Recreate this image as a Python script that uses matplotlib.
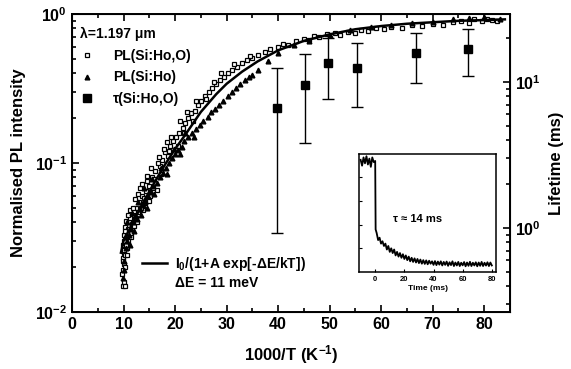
import numpy as np
import matplotlib
matplotlib.use('Agg')
import matplotlib.pyplot as plt
from matplotlib.lines import Line2D
from matplotlib.ticker import FixedLocator, FixedFormatter, LogLocator, NullFormatter, MultipleLocator

plt.rcParams['font.family'] = ['Liberation Sans', 'DejaVu Sans']
plt.rcParams['font.weight'] = 'bold'
plt.rcParams['mathtext.fontset'] = 'custom'
plt.rcParams['mathtext.rm'] = 'Liberation Sans:bold'
plt.rcParams['mathtext.bf'] = 'Liberation Sans:bold'
plt.rcParams['mathtext.it'] = 'Liberation Sans:bold'

# PL(Si:Ho,O) - open squares, 1000/T vs normalised intensity
sq_x = [9.8, 10.0, 10.2, 9.9, 10.1, 9.8, 10.0, 10.3, 9.9, 10.2, 10.4, 10.0, 10.6, 10.3, 10.8,
        11.0, 10.5, 11.3, 11.6, 12.0, 11.2, 12.4, 12.8, 13.0, 12.2, 13.5, 14.0, 14.3, 13.2, 15.0,
        14.6, 15.5, 16.0, 16.2, 15.4, 17.0, 17.5, 16.8, 18.0, 18.6, 19.0, 18.4, 19.6, 20.2, 20.8,
        21.5, 22.0, 22.6, 23.0, 23.8, 24.5, 25.0, 25.8, 26.5, 27.2, 28.0, 28.8, 29.5, 30.3, 31.0,
        32.0, 33.0, 34.0, 35.0, 36.0, 37.5, 38.5, 40.0, 41.0, 42.0, 43.5, 45.0, 46.0, 47.0, 48.0,
        49.5, 51.0, 52.0, 53.5, 55.0, 56.0, 57.5, 59.0, 60.5, 62.0, 64.0, 66.0, 68.0, 70.0, 72.0,
        74.0, 75.5, 77.0, 78.0, 79.5, 80.5, 81.5, 82.5, 10.7, 11.4, 12.6, 13.8, 14.9, 16.5,
        9.7, 9.9, 10.1, 10.0, 10.3, 10.5, 10.2, 10.6, 10.9, 11.1, 10.8, 11.5, 11.8, 12.1, 12.5,
        12.9, 13.3, 13.6, 14.1, 14.5, 15.2, 15.8, 16.6, 17.3, 17.8, 18.9, 19.3, 20.5, 21.0, 21.8,
        22.4, 23.4, 24.0, 26.0, 27.6, 29.0, 31.5, 34.5]
sq_y = [0.015, 0.016, 0.015, 0.019, 0.021, 0.023, 0.025, 0.024, 0.028, 0.029, 0.031, 0.033, 0.034, 0.037, 0.036,
        0.040, 0.041, 0.043, 0.039, 0.045, 0.048, 0.050, 0.047, 0.055, 0.057, 0.060, 0.058, 0.065, 0.068, 0.070,
        0.076, 0.080, 0.078, 0.088, 0.092, 0.095, 0.105, 0.110, 0.118, 0.112, 0.130, 0.138, 0.140, 0.150, 0.160,
        0.172, 0.185, 0.200, 0.215, 0.225, 0.245, 0.26, 0.28, 0.30, 0.32, 0.34, 0.36, 0.38, 0.40, 0.42,
        0.44, 0.47, 0.49, 0.51, 0.53, 0.56, 0.58, 0.60, 0.63, 0.62, 0.66, 0.68, 0.67, 0.71, 0.70,
        0.73, 0.74, 0.72, 0.76, 0.75, 0.78, 0.77, 0.80, 0.79, 0.82, 0.81, 0.84, 0.83, 0.86, 0.85,
        0.88, 0.90, 0.87, 0.92, 0.90, 0.93, 0.91, 0.90, 0.027, 0.032, 0.040, 0.048, 0.056, 0.066,
        0.018, 0.022, 0.026, 0.030, 0.020, 0.028, 0.035, 0.024, 0.030, 0.036, 0.045, 0.034, 0.050, 0.038, 0.043,
        0.062, 0.050, 0.072, 0.054, 0.082, 0.060, 0.068, 0.100, 0.085, 0.125, 0.120, 0.150, 0.13, 0.19, 0.16,
        0.22, 0.19, 0.26, 0.27, 0.35, 0.40, 0.46, 0.52]

# PL(Si:Ho) - filled triangles
tri_x = [9.9, 10.1, 10.4, 10.7, 11.0, 11.4, 11.8, 12.3, 12.7, 13.1, 13.7, 14.2, 14.8, 15.3, 15.8,
         16.4, 17.0, 17.6, 18.2, 18.8, 19.4, 20.0, 20.6, 21.3, 21.8, 22.5, 23.2, 24.0, 24.8, 25.5,
         26.3, 27.0, 27.8, 28.5, 29.3, 30.2, 31.0, 31.8, 32.6, 33.5, 34.3, 35.0, 36.0, 38.0, 40.0,
         43.0, 46.0, 50.0, 54.0, 58.0, 62.0, 66.0, 70.0, 74.0, 77.0, 80.0, 83.0,
         10.0, 10.3, 10.6, 11.2, 11.6, 12.0, 12.8, 13.4, 14.0, 14.5, 15.5, 16.0, 17.3, 18.5, 19.8,
         21.0, 22.0, 23.6]
tri_y = [0.017, 0.022, 0.027, 0.030, 0.033, 0.036, 0.040, 0.044, 0.042, 0.049, 0.052, 0.055, 0.060, 0.064, 0.070,
         0.073, 0.080, 0.086, 0.092, 0.100, 0.108, 0.115, 0.123, 0.128, 0.140, 0.150, 0.160, 0.168, 0.180, 0.19,
         0.205, 0.22, 0.23, 0.245, 0.26, 0.28, 0.30, 0.32, 0.34, 0.36, 0.38, 0.39, 0.42, 0.48, 0.55,
         0.62, 0.66, 0.72, 0.78, 0.82, 0.85, 0.87, 0.89, 0.92, 0.94, 0.95, 0.93,
         0.019, 0.032, 0.040, 0.028, 0.046, 0.035, 0.055, 0.045, 0.068, 0.050, 0.078, 0.062, 0.092, 0.085, 0.125,
         0.115, 0.16, 0.15]

# fit I0/(1+A exp[-dE/kT])
fit_x = [9.5, 10, 11, 12, 13, 14, 15, 16, 18, 20, 22, 25, 28, 30, 33, 36, 40, 45, 50, 55, 60, 65, 70, 75, 80, 84]
fit_y = [0.025, 0.03, 0.035, 0.041, 0.048, 0.056, 0.064, 0.074, 0.097, 0.124, 0.155, 0.22, 0.29, 0.34,
         0.41, 0.48, 0.57, 0.66, 0.73, 0.79, 0.83, 0.86, 0.88, 0.90, 0.91, 0.92]

# lifetime tau(Si:Ho,O) with error bar ends (ms)
tau_x = [39.8, 45.2, 49.7, 55.3, 66.8, 76.9]
tau_v = [6.6, 9.5, 13.5, 12.5, 15.8, 16.8]
tau_lo = [0.92, 3.8, 7.7, 6.7, 9.8, 11.0]
tau_hi = [12.5, 15.6, 20.0, 18.5, 21.7, 23.1]

# inset decay trace (normalised signal vs time in ms)
trace_t = [-10, -9, -8, -7, -6, -5, -4, -3, -2, -1, 0, 0.3,
           1, 2, 3, 4, 5, 6, 7, 8, 9, 10, 11, 12, 13, 14, 15, 16, 17, 18, 19, 20,
           21, 22, 23, 24, 25, 26, 27, 28, 29, 30, 31, 32, 33, 34, 35, 36, 37, 38, 39, 40,
           41, 42, 43, 44, 45, 46, 47, 48, 49, 50, 51, 52, 53, 54, 55, 56, 57, 58, 59, 60,
           61, 62, 63, 64, 65, 66, 67, 68, 69, 70, 71, 72, 73, 74, 75, 76, 77, 78, 79, 80]
trace_v = [0.95, 0.90, 0.97, 0.92, 0.98, 0.91, 0.96, 0.89, 0.97, 0.93, 0.94, 0.36,
           0.33, 0.27, 0.29, 0.24, 0.26, 0.22, 0.24, 0.19, 0.22, 0.17, 0.20, 0.16, 0.19, 0.14, 0.17, 0.13, 0.16, 0.12, 0.15, 0.11,
           0.14, 0.10, 0.13, 0.09, 0.12, 0.085, 0.115, 0.08, 0.11, 0.075, 0.105, 0.07, 0.10, 0.068, 0.098, 0.065, 0.095, 0.07, 0.09, 0.06,
           0.092, 0.058, 0.088, 0.062, 0.09, 0.055, 0.085, 0.06, 0.088, 0.052, 0.082, 0.058, 0.09, 0.05, 0.08, 0.055, 0.085, 0.05, 0.078, 0.056,
           0.084, 0.048, 0.08, 0.052, 0.086, 0.05, 0.078, 0.055, 0.082, 0.048, 0.08, 0.052, 0.085, 0.05, 0.078, 0.054, 0.082, 0.05, 0.08, 0.055]

x_ticks = [0, 10, 20, 30, 40, 50, 60, 70, 80]

fig = plt.figure(figsize=(5.71, 3.69), dpi=100)
ax = fig.add_axes([0.1261, 0.1545, 0.7671, 0.8076])

ax.plot(sq_x, sq_y, 's', ms=3.4, mfc='white', mec='black', mew=0.9, ls='none', zorder=3)
ax.plot(tri_x, tri_y, '^', ms=3.4, color='black', ls='none', zorder=3)
ax.plot(fit_x, fit_y, '-', color='black', lw=1.8, zorder=4)

ax.set_yscale('log')
ax.set_xlim(0, 85)
ax.set_ylim(0.01, 1.0)
ax.xaxis.set_major_locator(FixedLocator(x_ticks))
ax.xaxis.set_minor_locator(MultipleLocator(5))
ax.yaxis.set_major_locator(FixedLocator([0.01, 0.1, 1.0]))
ax.yaxis.set_major_formatter(FixedFormatter([r'$\mathbf{10^{-2}}$', r'$\mathbf{10^{-1}}$', r'$\mathbf{10^{0}}$']))
ax.yaxis.set_minor_locator(LogLocator(base=10, subs=np.arange(2, 10)))
ax.yaxis.set_minor_formatter(NullFormatter())
ax.tick_params(which='both', direction='in', top=True, right=False, labelsize=11.5, width=1.2)
ax.tick_params(which='major', length=5)
ax.tick_params(which='minor', length=3)
for s in ax.spines.values():
    s.set_linewidth(1.4)
ax.set_xlabel('1000/T (K$^{\\mathbf{-1}}$)', fontsize=12, fontweight='bold', labelpad=8)
ax.set_ylabel('Normalised PL intensity', fontsize=12, fontweight='bold', labelpad=6)

ax2 = ax.twinx()
tau_v = np.array(tau_v)
yerr = [tau_v - np.array(tau_lo), np.array(tau_hi) - tau_v]
ax2.errorbar(tau_x, tau_v, yerr=yerr, fmt='s', ms=5.5, color='black', ecolor='black',
             elinewidth=1.0, capsize=4.3, capthick=1.0)
ax2.set_yscale('log')
ax2.set_ylim(0.266, 29.2)
ax2.yaxis.set_major_locator(FixedLocator([1.0, 10.0]))
ax2.yaxis.set_major_formatter(FixedFormatter([r'$\mathbf{10^{0}}$', r'$\mathbf{10^{1}}$']))
ax2.yaxis.set_minor_locator(LogLocator(base=10, subs=np.arange(2, 10)))
ax2.yaxis.set_minor_formatter(NullFormatter())
ax2.tick_params(which='both', direction='in', labelsize=11.5, width=1.2)
ax2.tick_params(which='major', length=5)
ax2.tick_params(which='minor', length=3)
ax2.set_ylabel('Lifetime (ms)', fontsize=12, fontweight='bold', rotation=90, labelpad=6)

# legends
h_sq = Line2D([], [], marker='s', ms=3.4, mfc='white', mec='black', mew=0.9, ls='none')
h_tri = Line2D([], [], marker='^', ms=3.4, color='black', ls='none')
h_tau = Line2D([], [], marker='s', ms=5.5, color='black', ls='none')
leg1 = ax2.legend([h_sq, h_tri, h_tau], ['PL(Si:Ho,O)', 'PL(Si:Ho)', '\u03c4(Si:Ho,O)'],
                  title='\u03bb=1.197 \u03bcm', alignment='left', loc='upper left',
                  bbox_to_anchor=(0.005, 0.975), borderaxespad=0, frameon=False,
                  handlelength=1.0, handletextpad=1.4, labelspacing=0.55,
                  prop={'size': 10, 'weight': 'bold'}, title_fontproperties={'size': 10, 'weight': 'bold'})
ax2.add_artist(leg1)
h_fit = Line2D([], [], color='black', lw=1.8)
h_none = Line2D([], [], color='none')
ax2.legend([h_fit, h_none], ['I$_{\\mathbf{0}}$/(1+A exp[-\u0394E/kT])', '\u0394E = 11 meV'],
           loc='lower left', bbox_to_anchor=(0.147, 0.055), borderaxespad=0, frameon=False,
           handlelength=1.8, handletextpad=0.6, labelspacing=0.2,
           prop={'size': 10, 'weight': 'bold'})

# inset: decay trace
axi = fig.add_axes([0.629, 0.263, 0.240, 0.320])
axi.plot(trace_t, trace_v, color='black', lw=1.3)
axi.set_xlim(-11, 83)
axi.set_ylim(0, 1.0)
axi.set_xticks([0, 20, 40, 60, 80])
axi.set_yticks([0.2, 0.4, 0.6, 0.8])
axi.set_yticklabels([])
axi.tick_params(direction='in', labelsize=5.5, length=2.5, width=0.8, pad=3)
axi.set_xlabel('Time (ms)', fontsize=6, fontweight='bold', labelpad=1)
for s in axi.spines.values():
    s.set_linewidth(1.1)
axi.text(12, 0.42, '\u03c4 \u2248 14 ms', fontsize=8, fontweight='bold')

fig.savefig('out.png', dpi=100)
